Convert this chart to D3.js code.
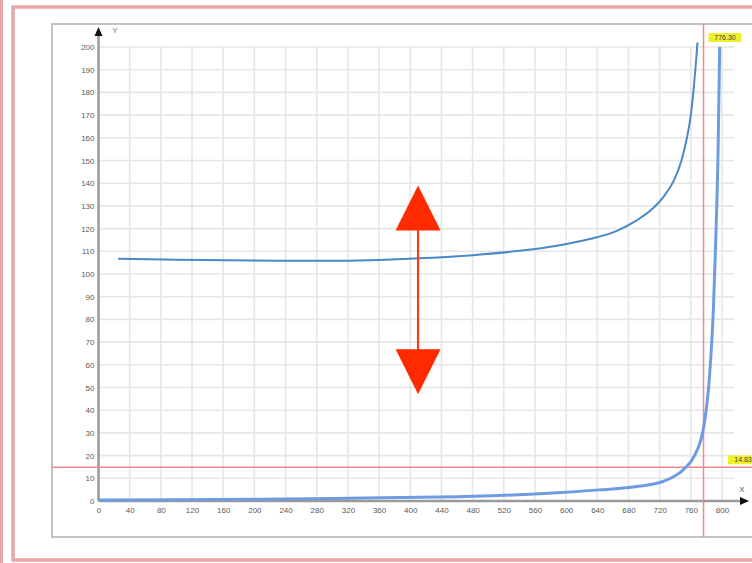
<!DOCTYPE html>
<html>
<head>
<meta charset="utf-8">
<script src="https://cdn.jsdelivr.net/npm/d3@7"></script>
<style>
  html, body { margin: 0; padding: 0; background: #fff; }
  svg { display: block; }
</style>
</head>
<body>
<script>
// Tick values for both axes
const xTicks = d3.range(0, 801, 40);
const yTicks = d3.range(0, 201, 10);

// Upper curve: slowly rising, then blowing up near x ≈ 768
const upperX = [25, 100, 200, 280, 360, 420, 480, 540, 590, 630, 665, 690, 710, 725, 738, 748, 755, 760, 764, 767, 768.5];
const upperY = [106.7, 106.3, 105.9, 105.8, 106.2, 107, 108.3, 110.2, 112.6, 115.4, 119, 123.5, 128.5, 134, 141, 150, 160, 170, 183, 195, 202];

// Lower curve: near zero, then blowing up near x ≈ 797
const lowerX = [0, 100, 207, 300, 386, 460, 514, 560, 600, 642, 693, 725, 751, 764, 777, 784, 789, 792, 795, 797];
const lowerY = [0.4, 0.55, 0.75, 1.1, 1.5, 1.9, 2.4, 3.1, 3.9, 4.9, 6.5, 8.7, 14, 19.5, 33.5, 55, 85, 115, 155, 200];

// Marker values
const markerX = 776.30;
const markerY = 14.83;

// Double arrow (data coordinates)
const arrowX = 410;
const arrowTop = 139;
const arrowBottom = 47;

const W = 752, H = 563;
const svg = d3.select("body").append("svg").attr("width", W).attr("height", H);

const x = d3.scaleLinear().domain([0, 800]).range([98.5, 722]);
const y = d3.scaleLinear().domain([0, 200]).range([501, 47]);

// Outer page frames
svg.append("line").attr("x1", 1.5).attr("x2", 1.5).attr("y1", 0).attr("y2", H)
  .attr("stroke", "#e8a6a6").attr("stroke-width", 3);
svg.append("rect").attr("x", 13).attr("y", 7).attr("width", W).attr("height", 553)
  .attr("fill", "none").attr("stroke", "#e8a6a6").attr("stroke-width", 3.5);

// Chart frame
svg.append("rect").attr("x", 52).attr("y", 24).attr("width", W).attr("height", 513)
  .attr("fill", "#fff").attr("stroke", "#b0b0b0").attr("stroke-width", 1.5);

// Grid
const grid = svg.append("g").attr("stroke", "#e6e6e6").attr("stroke-width", 1.6);
grid.selectAll("line.h").data(yTicks).join("line").attr("class", "h")
  .attr("x1", x(0)).attr("x2", x(800) + 12).attr("y1", d => y(d)).attr("y2", d => y(d));
grid.selectAll("line.v").data(xTicks).join("line").attr("class", "v")
  .attr("x1", d => x(d)).attr("x2", d => x(d)).attr("y1", y(0)).attr("y2", y(200));

// Axes via d3-axis (labels only), then custom axis lines with arrows
const yAxis = svg.append("g").attr("transform", `translate(${x(0) - 4},0)`)
  .call(d3.axisLeft(y).tickValues(yTicks).tickSize(0).tickPadding(0).tickFormat(d3.format("d")));
const xAxis = svg.append("g").attr("transform", `translate(0,${y(0) + 6})`)
  .call(d3.axisBottom(x).tickValues(xTicks).tickSize(0).tickPadding(0).tickFormat(d3.format("d")));
[yAxis, xAxis].forEach(a => {
  a.select(".domain").remove();
  a.selectAll("text").attr("fill", "#5a5a5a").style("font-family", "Liberation Sans, Arial, sans-serif").style("font-size", "8px");
});

svg.append("line").attr("x1", x(0)).attr("x2", x(0)).attr("y1", y(0)).attr("y2", 34)
  .attr("stroke", "#9a9a9a").attr("stroke-width", 2.5);
svg.append("line").attr("x1", x(0)).attr("x2", 742).attr("y1", y(0)).attr("y2", y(0))
  .attr("stroke", "#9a9a9a").attr("stroke-width", 2.5);
svg.append("path").attr("d", `M${x(0)},27 L${x(0) - 4},36 L${x(0) + 4},36 Z`).attr("fill", "#111");
svg.append("path").attr("d", `M749,${y(0)} L740,${y(0) - 4} L740,${y(0) + 4} Z`).attr("fill", "#111");
svg.append("text").attr("x", 115).attr("y", 33).attr("text-anchor", "middle")
  .attr("fill", "#6a7a90").style("font-family", "Liberation Sans, Arial, sans-serif").style("font-size", "8px").text("Y");
svg.append("text").attr("x", 742).attr("y", 492).attr("text-anchor", "middle")
  .attr("fill", "#555").style("font-family", "Liberation Sans, Arial, sans-serif").style("font-size", "8px").text("X");

// Marker lines
svg.append("line").attr("x1", x(markerX)).attr("x2", x(markerX)).attr("y1", 24).attr("y2", 537)
  .attr("stroke", "#f08a8a").attr("stroke-width", 1.5);
svg.append("line").attr("x1", 52).attr("x2", W).attr("y1", y(markerY)).attr("y2", y(markerY))
  .attr("stroke", "#f08a8a").attr("stroke-width", 1.5);

// Curves
const line = d3.line().x(d => x(d[0])).y(d => y(d[1])).curve(d3.curveMonotoneX);
svg.append("path").datum(lowerX.map((v, i) => [v, lowerY[i]]))
  .attr("d", line).attr("fill", "none").attr("stroke", "#6e9ce2").attr("stroke-width", 3);
svg.append("path").datum(upperX.map((v, i) => [v, upperY[i]]))
  .attr("d", line).attr("fill", "none").attr("stroke", "#4a88c8").attr("stroke-width", 2);

// Marker value tags
function tag(cx, cy, w, txt) {
  svg.append("rect").attr("x", cx).attr("y", cy - 4.5).attr("width", w).attr("height", 9).attr("fill", "#eef02a");
  svg.append("text").attr("x", cx + w / 2).attr("y", cy + 2.5).attr("text-anchor", "middle")
    .attr("fill", "#444").style("font-family", "Liberation Sans, Arial, sans-serif").style("font-size", "7px").text(txt);
}
tag(x(markerX) + 5, 37.5, 33, markerX.toFixed(2));
tag(728, y(markerY) - 7.5, 30, markerY.toFixed(2));

// Red double arrow
const ax = x(arrowX), at = y(arrowTop), ab = y(arrowBottom), hl = 45, hw = 22.5;
svg.append("line").attr("x1", ax).attr("x2", ax).attr("y1", at + hl - 2).attr("y2", ab - hl + 2)
  .attr("stroke", "#ff3a1a").attr("stroke-width", 2.2);
svg.append("path").attr("d", `M${ax},${at} L${ax - hw},${at + hl} L${ax + hw},${at + hl} Z`).attr("fill", "#ff2a00");
svg.append("path").attr("d", `M${ax},${ab} L${ax - hw},${ab - hl} L${ax + hw},${ab - hl} Z`).attr("fill", "#ff2a00");
</script>
</body>
</html>
